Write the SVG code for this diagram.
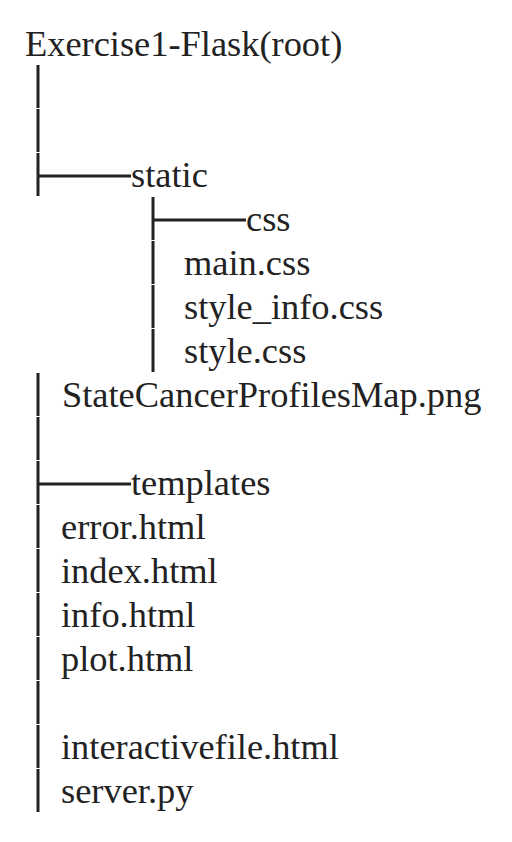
<svg xmlns="http://www.w3.org/2000/svg" width="512" height="842" viewBox="0 0 512 842">
<style>
text{font-family:'Liberation Serif',Tinos,'Times New Roman',Times,serif;font-size:36.4px;fill:#222}
.v{stroke:#222;stroke-width:3;fill:none}
</style>
<rect width="512" height="842" fill="#fff"/>
<g id="connectors">
<path class="v" d="M38 65V108M38 109V152M38 153V196M38 373V416M38 417V460M38 461V504M38 505V548M38 549V592M38 593V636M38 637V680M38 681V724M38 725V768M38 769V812"/>
<path class="v" d="M153 197V240M153 241V284M153 285V328M153 329V372"/>
<path class="v" d="M38 176H131M153 220H246M38 484H131"/>
</g>
<g id="root"><text x="25" y="56">Exercise1-Flask(root)</text></g>
<g id="static"><text x="131" y="187">static</text></g>
<g id="css"><text x="246" y="231">css</text></g>
<g id="main-css"><text x="184" y="275">main.css</text></g>
<g id="style-info-css"><text x="184" y="319">style_info.css</text></g>
<g id="style-css"><text x="184" y="363">style.css</text></g>
<g id="map-png"><text x="62" y="407">StateCancerProfilesMap.png</text></g>
<g id="templates"><text x="131" y="495">templates</text></g>
<g id="error-html"><text x="61" y="539">error.html</text></g>
<g id="index-html"><text x="61" y="583">index.html</text></g>
<g id="info-html"><text x="61" y="627">info.html</text></g>
<g id="plot-html"><text x="61" y="671">plot.html</text></g>
<g id="interactivefile-html"><text x="61" y="759">interactivefile.html</text></g>
<g id="server-py"><text x="61" y="803">server.py</text></g>
</svg>
